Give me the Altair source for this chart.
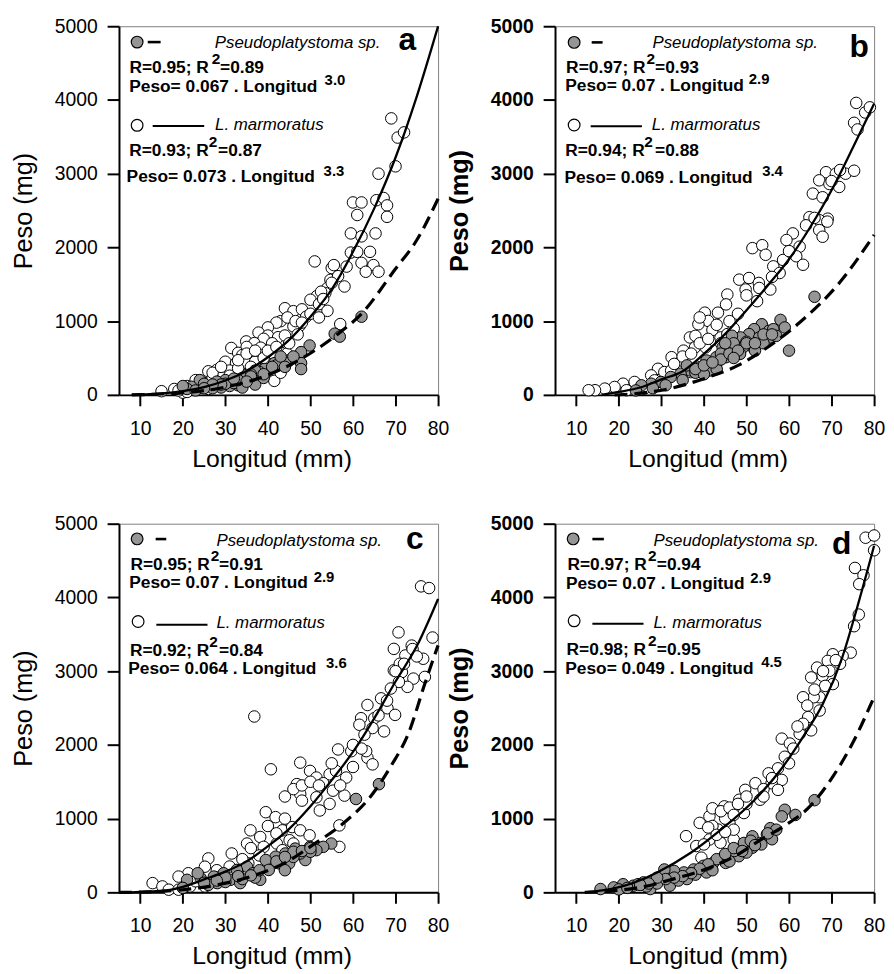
import altair as alt
import pandas as pd

FONT = "Liberation Sans"
PW, PH = 322, 372
X_TICKS = [10, 20, 30, 40, 50, 60, 70, 80]
Y_TICKS = [0, 1000, 2000, 3000, 4000, 5000]

# ---------------- data (Longitud mm, Peso mg) ----------------
OPEN_A = [(69,3750),(70.5,3490),(72,3560),(70,3100),(66,3000),
    (60,2610),(62,2610),(61,2440),(65.5,2640),(67.2,2670),(68,2570),(68,2415),
    (59.5,2190),(62,2150),(65.3,2190),(59.5,1930),(61,1940),(64,1940),
    (51,1810),(55,1720),(58.5,1740),(62,1790),(64.8,1760),(63,1670),(66,1670),(55.5,1760),
    (54.7,1560),(56.5,1610),(58,1470),(54,1450),(55,1520),
    (51.5,1340),(50,1290),(53.5,1380),(52,1230),(54,1140),(52.5,1400),
    (44,1175),(46,1135),(48,1160),(49,1060),(47.5,940),(46,930),
    (43,1000),(44.6,1050),(46.5,1000),(42,980),(40,915),
    (37.8,845),(40,805),(42.4,782),(44,805),(39,760),
    (31.4,636),(34.9,725),(36.8,702),(38.3,640),(41,700),(43,575),(35,650),(33,570),
    (34,540),(36,540),(38.5,540),(41,540),(44.5,560),
    (30,450),(32.5,430),(35,430),(37,450),(39.5,450),(42,420),(44.5,440),
    (28,340),(26,320),(29.5,280),(31,330),(33,360),(36,380),(41.5,190),(43,300),
    (23,200),(21,120),(18,80),(15,50),(20,30),(22,70),(25,160),(27,230),(24,100),
    (26,80),(21,40),(19,60),(57,960),
    (27,300),(29,380),(31,260),(33,470),(35,560),(37,600),(39,500),(40,600),(42,650),
    (45,700),(47,820),(48,980),(50,1100),(52,1050),(53,1300)]
GRAY_A = [(62,1060),(55.7,830),(56.9,790),(49.8,670),(47.8,580),(47.8,430),(47.8,350),
    (45,470),(43,490),(44,440),(41.5,430),(42,400),(40,330),(39.2,350),(38,310),(37,330),
    (36,280),(35,270),(34,230),(33,130),(37,140),(39,230),(41,380),(36,250),
    (30,200),(28,180),(31,120),(29,100),(26,120),(24,200),(25,150),(22,110),(21,80),
    (20,120),(27,90),(32,160),(34,100),(23,60),(30,150),(33,200),
    (43,520),(46,520),(44,380),(39,280),(35,180),(32,220),(29,140),(27,140),(25,90)]
SOLID_A = [(8,0),(10,5),(15,20),(20,50),(25,105),(30,195),(35,325),(40,510),(45,745),
    (50,1060),(55,1430),(60,1940),(65,2530),(70,3220),(75,4050),(80,5000)]
DASH_A = [(8,0),(12,6),(20,27),(30,105),(40,270),(50,565),(57,850),(62,1100),(70,1710),
    (75,2100),(80,2660)]

OPEN_B = [(75.8,3960),(77.9,3830),(75.3,3690),(76.1,3600),(79,3900),
    (68.7,3020),(71,3000),(73.3,3000),(75.3,3040),(67.1,2910),(69.5,2860),(71.8,2820),
    (65.6,2730),(67.9,2680),(69.1,2390),(67.1,2370),(64.8,2410),(67.1,2235),(67.9,2145),
    (69,2350),(60.9,2190),(59.4,2100),(62.5,2010),(61.7,1880),(63.3,1765),(58.6,1830),
    (56.3,1743),(57.8,1653),(51.4,1990),(53.7,2030),(54.5,1900),
    (48.3,1563),(50.6,1585),(52.9,1518),(49.8,1429),(55.6,1429),(52.5,1271),
    (45.5,1361),(45.2,1227),(43.3,1115),(40.2,1115),(41,1003),(38.7,958),(36.7,779),
    (35.2,600),(37.9,645),(32.4,511),(34.8,466),(40.4,645),(43.9,779),(45.5,824),
    (29.2,354),(30.7,309),(27.6,264),(23.7,175),(21,152),(19,107),(16.7,85),(14.4,63),
    (12.9,63),(21.8,63),(26,85),(28.4,197),(32.3,331),(36.9,309),
    (39,1050),(42,880),(38,800),(47,900),
    (33,420),(35,520),(37,560),(39,700),(41,760),(43,950),(44,700),(46,1000),(48,1100),
    (50,1350),(53,1450),(56,1600),(60,1950),(64,2300),(66,2400),(70,2900),(72,3050)]
GRAY_B = [(66,1330),(60,600),(58,1017),(59,914),(53.6,958),(51.8,891),(50.6,824),
    (48.6,779),(46.6,802),(55.3,869),(55.7,779),(53,779),
    (51.5,645),(49.2,645),(46.8,600),(44.4,645),(45.2,511),(42.9,511),(40.6,466),
    (39.1,376),(42.9,421),(36.8,331),(34.5,287),(32.2,242),(29.9,175),(27.6,152),
    (25.3,130),(41.4,331),(48.5,556),(56.3,891),
    (47,700),(44,560),(38,300),(35,200),(31,130),(28,90),(24,60),(50,720),(52,600),
    (54,700),(57,800),(36,400),(40,280),(43,350),
    (44,480),(46,560),(48,600),(50,700),(52,700),(54,820),(56,820),(38,350),(40,400),
    (42,440),(45,700),(47,500)]
SOLID_B = [(16,0),(20,40),(25,100),(30,210),(35,320),(40,555),(45,827),(50,1148),
    (55,1484),(60,1840),(65,2277),(70,2775),(75,3353),(80,3950)]
DASH_B = [(19,0),(24.5,20),(32,86),(40,220),(48,400),(55.5,667),(62.5,981),(72,1530),
    (80,2170)]

OPEN_C = [(70.7,3526),(73.8,3347),(69.6,3302),(72.3,3213),(76.5,3168),(78.7,3456),
    (69.6,3011),(71.5,2988),(74.2,2899),(76.9,2922),(72.8,2787),(70.8,2854),(68.9,2765),
    (66.6,2631),(68.1,2497),(63.4,2541),(61.9,2362),(65,2362),(69.9,2407),(61.5,2273),
    (64.6,2228),(67.3,2183),(62.7,2139),(56.5,1938),(59.6,1915),(63.4,1826),(64.6,1736),
    (63.1,1915),(36.8,2385),(40.7,1669),
    (47.6,1759),(49.9,1647),(51.4,1557),(54.5,1602),(56,1647),(58.4,1557),(46.8,1468),
    (47.6,1334),(48,1244),(51.4,1289),(55.3,1379),(58,1312),(54.5,1200),(52.2,1110),
    (39.5,1087),(41.8,1020),(43.4,841),(45.7,885),(47.6,841),(35.9,841),(38.2,751),
    (35.1,662),(39,617),(42.1,662),(45.1,707),(49.8,774),(43.4,572),(46,662),(56.8,908),
    (56.8,617),(26,460),(31.5,527),(25.2,348),(30.8,259),(35.4,393),(21.3,259),(19,214),
    (12.9,125),(15.2,80),(16.7,36),(19,36),(21.7,80),(25.2,80),
    (76,4150),(77.9,4127),(74,3300),(71,3100),(60,1700),(53,1480),(44,1000),(38,500),
    (33,300),(28,300),(23,150),
    (44,1300),(46,1400),(48,1450),(50,1500),(52,1450),(55,1750),(57,1450),(60,2000),
    (62,1950),(66,2400),(68,2600),(70,3000),(72,3100),(75,3200),(40,900),(42,800),
    (36,600),(34,450),(31,350),(28,200)]
GRAY_C = [(66.1,1467),(60.7,1266),(54.9,662),(53,617),(49.9,617),(46.4,594),(44.1,527),
    (41.8,483),(39.5,438),(35.1,348),(32.7,304),(29.6,259),(27.3,214),(24.2,192),
    (23.5,259),(21,170),(42.7,393),(45,393),(48.8,438),(40.2,304),(36.5,259),(31.2,170),
    (28.1,125),(33.5,125),(38.2,170),(47.6,527),(51.4,572),
    (44,300),(46,480),(50,550),(37,200),(34,180),(30,140),(26,100),(20,60),(25,130),
    (42,420),(46,550),(48,560),(50,600),(44,480),(38,300),(36,230),(33,220),(30,200),
    (28,160)]
SOLID_C = [(8,0),(10,5),(17,35),(20,75),(25,175),(30,281),(35,420),(40,625),(45,860),
    (50,1167),(55,1522),(60,1904),(65,2360),(70,2860),(75,3340),(80,3980)]
DASH_C = [(5,0),(10,3),(20,35),(28,100),(36,215),(44,400),(51,660),(58,950),(64,1290),
    (69,1720),(73,2150),(77,2850),(80,3350)]

OPEN_D = [(78,4810),(80,4840),(80,4640),(75.5,4400),(77.5,4300),(76.5,4180),(76.4,3767),
    (75.3,3610),(74.5,3251),(72.6,3206),(70.3,3229),(69.1,3139),(66.6,3049),(67.9,2937),
    (65.2,2915),(70.3,2825),(69.5,3004),(67.2,2646),(65.8,2646),(63.3,2646),(64.3,2534),
    (67.2,2466),(64.5,2377),(65.2,2197),(63.3,2287),(58.3,2085),(60.2,2018),(59,1839),
    (57.4,1682),(55.2,1614),(58.3,1525),(55.9,1480),(57.4,1390),(52.1,1480),(53.2,1256),
    (49.7,1390),(48.3,1256),(49.4,1076),(44.8,1166),(41.3,1031),(39,942),(35.8,762),
    (46,942),(43.3,852),(41.3,717),(38.2,628),(43.9,673),(47,717),(39.4,470),(40.9,359),
    (42,1140),(45,1000),(47,850),(50,1200),(61,1950),(62.5,2150),(68.5,2800),(72,3100),
    (54,1400),(60,1750),
    (42,900),(44,1100),(46,1150),(48,1200),(50,1300),(41,880),(43,780),(45,820),
    (47,1050),(40,650),(54,1300),(56,1550),(62,2250),(66,2750),(68,3000),(71,3150)]
GRAY_D = [(66,1250),(61.5,1050),(59,1120),(58.3,1030),(55.6,870),(54.8,785),(53,670),
    (51.4,605),(51.4,760),(49.4,670),(48.2,490),(47.1,560),(45.1,400),(44.5,470),
    (42.2,400),(40.6,270),(39.9,360),(37.6,310),(36,180),(35.3,270),(33,290),(32,90),
    (30.7,220),(30.7,310),(28,160),(27.4,45),(25.8,135),(23.4,90),(21,110),(18.8,67),
    (15.7,45),(20,40),(22,60),(24.5,110),(26.5,80),(29,120),(34,160),(38,240),(42,300),
    (46,420),(50,540),(53.5,650),(56,720),(57,850),
    (43,450),(45,520),(47,600),(49,560),(51,700),(52,640),(55,800),(41,380),(39,320),
    (37,260),(35,220),(33,200),(31,180),(29,200),(27,120),(25,100)]
SOLID_D = [(12,0),(14,10),(21.4,90),(29,270),(37,540),(44,850),(52,1260),(58,1660),
    (63.3,2110),(68,2560),(72.5,3185),(76,3860),(80,4700)]
DASH_D = [(12,0),(25,67),(32.7,179),(40.4,314),(47.4,494),(53.5,718),(58.8,897),
    (64.9,1166),(70.3,1570),(74.9,2019),(80,2650)]

SPECIES = ["Pseudoplatystoma sp.", "L. marmoratus"]
PANELS = [
    dict(letter="a", bold=False, open=OPEN_A, gray=GRAY_A, solid=SOLID_A, dash=DASH_A,
         r1=("R=0.95; R", "2", "=0.89"), e1=("Peso= 0.067 . Longitud", "3.0"),
         r2=("R=0.93; R", "2", "=0.87"), e2=("Peso= 0.073 . Longitud", "3.3")),
    dict(letter="b", bold=True, open=OPEN_B, gray=GRAY_B, solid=SOLID_B, dash=DASH_B,
         r1=("R=0.97; R", "2", "=0.93"), e1=("Peso= 0.07 . Longitud", "2.9"),
         r2=("R=0.94; R", "2", "=0.88"), e2=("Peso= 0.069 . Longitud", "3.4")),
    dict(letter="c", bold=False, open=OPEN_C, gray=GRAY_C, solid=SOLID_C, dash=DASH_C,
         r1=("R=0.95; R", "2", "=0.91"), e1=("Peso= 0.07 . Longitud", "2.9"),
         r2=("R=0.92; R", "2", "=0.84"), e2=("Peso= 0.064 . Longitud", "3.6")),
    dict(letter="d", bold=True, open=OPEN_D, gray=GRAY_D, solid=SOLID_D, dash=DASH_D,
         r1=("R=0.97; R", "2", "=0.94"), e1=("Peso= 0.07 . Longitud", "2.9"),
         r2=("R=0.98; R", "2", "=0.95"), e2=("Peso= 0.049 . Longitud", "4.5")),
]

# ---------------- layout of annotations (pixels inside each plot area) ----------------
LAYOUT = [
    dict(letter=(291, 24), gm=(18.3, 16), dash=(29, 42, 16), sp1=(96.7, 16.5),
         r1=(10.5, 42, 93.5, 102), e1=(10.3, 61, 207.5), om=(18.3, 100), line=(34, 86, 100.7),
         sp2=(97, 100), r2=(10.3, 126, 90.5, 100), e2=(7.7, 152.3, 206.5)),
    dict(letter=(307, 30.7), gm=(19.3, 16.3), dash=(37, 48, 16.3), sp1=(98.3, 16.5),
         r1=(11.2, 41.7, 92.2, 101), e1=(10.3, 60, 195.5), om=(19.3, 99.7), line=(36, 87.7, 101),
         sp2=(97.7, 100), r2=(10.3, 126, 90, 101), e2=(9.5, 153, 209)),
    dict(letter=(298.5, 25.3), gm=(18.3, 15.3), dash=(37, 47.7, 15.5), sp1=(98.3, 17),
         r1=(11.5, 42, 92.5, 101), e1=(10.3, 60.3, 196.5), om=(19.3, 98.7), line=(37.7, 89.3, 102),
         sp2=(98.3, 100.3), r2=(11, 128.7, 91, 101), e2=(9.3, 147, 209)),
    dict(letter=(289.3, 30.3), gm=(18.3, 15.3), dash=(37.7, 49.3, 15.5), sp1=(99.3, 17),
         r1=(12.5, 42, 93.8, 102.7), e1=(11, 61, 197), om=(19.3, 98), line=(37.7, 89.3, 101),
         sp2=(99.3, 100.3), r2=(11.7, 127, 93.8, 102.7), e2=(10.3, 146.3, 208)),
]

XS = alt.Scale(domain=[5, 80], nice=False, zero=False)
YS = alt.Scale(domain=[0, 5000], nice=False)
ONE = alt.Data(values=[{"k": 1}])
GRAY = "#959595"
EQ = 17.5
SUP = 15.5
PT = 135


def axes(bold):
    fw = "bold" if bold else "normal"
    xa = alt.Axis(values=X_TICKS, format="d", title="Longitud (mm)", grid=False,
                  labelFlush=False, labelOverlap=False, labelFont=FONT, labelFontSize=19.5,
                  labelColor="black", labelBaseline="middle", labelPadding=23, tickSize=11,
                  tickWidth=2, tickColor="black", domainColor="black", domainWidth=2,
                  titleFont=FONT, titleFontSize=25, titleFontWeight="normal",
                  titleColor="black", titleX=154, titleY=64, titleAlign="center",
                  titleBaseline="middle")
    ya = alt.Axis(values=Y_TICKS, format="d", title="Peso (mg)", grid=False,
                  labelFlush=False, labelOverlap=False, labelFont=FONT, labelFontSize=19.5,
                  labelFontWeight=fw, labelColor="black", labelPadding=10, tickSize=12,
                  tickWidth=2, tickColor="black", domainColor="black", domainWidth=2,
                  titleFont=FONT, titleFontSize=25.5, titleFontWeight=fw, titleColor="black",
                  titleX=-96, titleY=PH / 2, titleAngle=270, titleAlign="center",
                  titleBaseline="middle")
    return xa, ya


def txt(s, x, y, size, weight="bold", style="normal", align="left", baseline="middle"):
    return alt.Chart(ONE).mark_text(text=s, font=FONT, fontSize=size, fontWeight=weight,
                                    fontStyle=style, align=align, baseline=baseline,
                                    color="black").encode(x=alt.value(x), y=alt.value(y))


def marker(x, y, fill):
    return alt.Chart(ONE).mark_circle(size=140, fill=fill, stroke="black", strokeWidth=1.2,
                                      opacity=1).encode(x=alt.value(x), y=alt.value(y))


def seg(x1, x2, y, w):
    return alt.Chart(ONE).mark_rule(color="black", strokeWidth=w).encode(
        x=alt.value(x1), x2=alt.value(x2), y=alt.value(y))


def panel(p, lay):
    xa, ya = axes(p["bold"])
    enc = dict(x=alt.X("L:Q", scale=XS, axis=xa), y=alt.Y("P:Q", scale=YS, axis=ya))
    df = lambda pts: pd.DataFrame(pts, columns=["L", "P"])
    o = alt.Chart(df(p["open"])).mark_circle(size=PT, fill="white", stroke="black",
                                             strokeWidth=1, opacity=1).encode(**enc)
    g = alt.Chart(df(p["gray"])).mark_circle(size=PT, fill=GRAY, stroke="black",
                                             strokeWidth=1, opacity=1).encode(**enc)
    s = alt.Chart(df(p["solid"])).mark_line(color="black", strokeWidth=2.3,
                                            interpolate="monotone").encode(**enc)
    d = alt.Chart(df(p["dash"])).mark_line(color="black", strokeWidth=3.2, strokeDash=[13, 7],
                                           interpolate="monotone").encode(**enc)
    layers = [o, g, s, d]
    lx, ly = lay["letter"]
    layers.append(txt(p["letter"], lx, ly, 32, align="center", baseline="alphabetic"))
    layers.append(marker(*lay["gm"], GRAY))
    x1, x2, yy = lay["dash"]
    layers.append(seg(x1, x2, yy, 2.6))
    layers.append(txt(SPECIES[0], lay["sp1"][0], lay["sp1"][1], 17, weight="normal", style="italic"))
    layers.append(marker(*lay["om"], "white"))
    x1, x2, yy = lay["line"]
    layers.append(seg(x1, x2, yy, 2))
    layers.append(txt(SPECIES[1], lay["sp2"][0], lay["sp2"][1], 17, weight="normal", style="italic"))
    for rk, ek in (("r1", "e1"), ("r2", "e2")):
        a, sup, b = p[rk]
        rx, ry, sx, bx = lay[rk]
        layers.append(txt(a, rx, ry, EQ))
        layers.append(txt(sup, sx, ry - 9, SUP))
        layers.append(txt(b, bx, ry, EQ))
        e, ex = p[ek]
        exx, ey, supx = lay[ek]
        layers.append(txt(e, exx, ey, EQ))
        layers.append(txt(ex, supx, ey - 6.5, 15))
    return alt.layer(*layers).properties(width=PW, height=PH)


charts = [panel(p, l) for p, l in zip(PANELS, LAYOUT)]
chart = alt.concat(*charts, columns=2, spacing={"row": 130, "column": 118},
                   bounds="flush").properties(
    padding={"left": 3, "top": 3, "right": 0, "bottom": 0}
).configure_view(stroke="#808080", strokeWidth=1)

chart.save("out.html", embed_options={"renderer": "svg", "actions": False})
